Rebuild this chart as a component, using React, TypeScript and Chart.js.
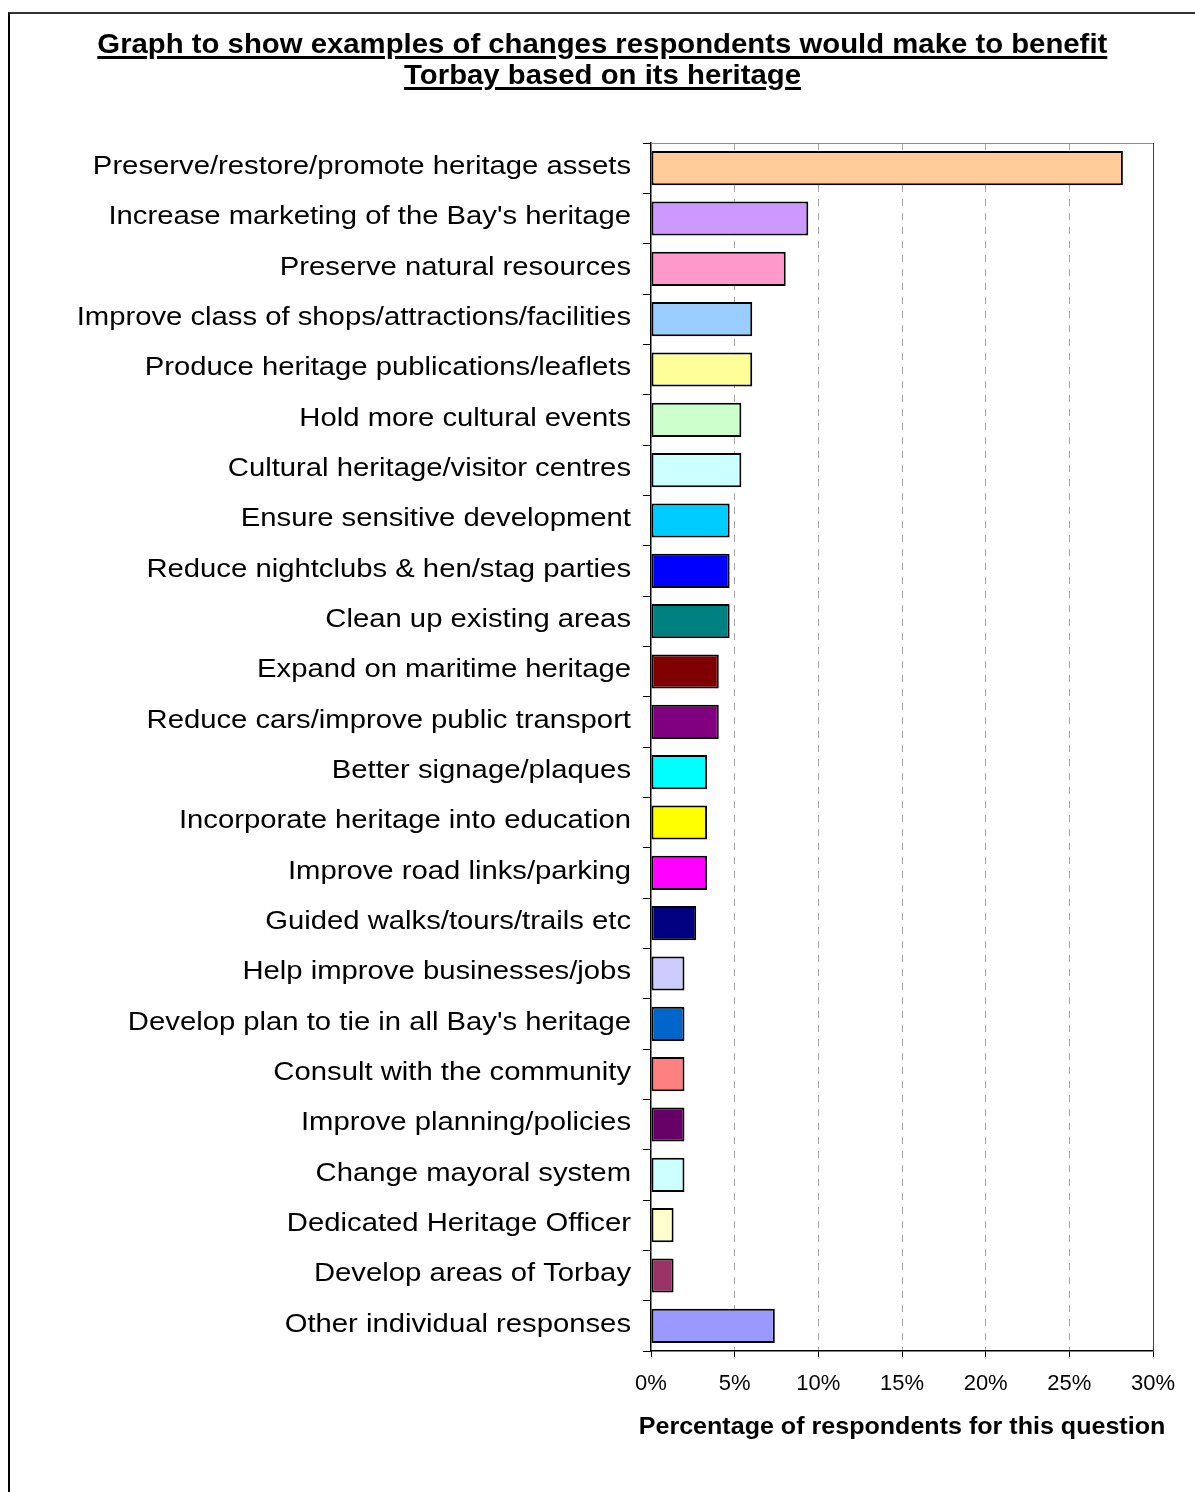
import React, { useEffect, useRef } from 'react';
import { Chart, registerables } from 'chart.js';

Chart.register(...registerables);

const categories: string[] = [
  'Preserve/restore/promote heritage assets',
  "Increase marketing of the Bay's heritage",
  'Preserve natural resources',
  'Improve class of shops/attractions/facilities',
  'Produce heritage publications/leaflets',
  'Hold more cultural events',
  'Cultural heritage/visitor centres',
  'Ensure sensitive development',
  'Reduce nightclubs & hen/stag parties',
  'Clean up existing areas',
  'Expand on maritime heritage',
  'Reduce cars/improve public transport',
  'Better signage/plaques',
  'Incorporate heritage into education',
  'Improve road links/parking',
  'Guided walks/tours/trails etc',
  'Help improve businesses/jobs',
  "Develop plan to tie in all Bay's heritage",
  'Consult with the community',
  'Improve planning/policies',
  'Change mayoral system',
  'Dedicated Heritage Officer',
  'Develop areas of Torbay',
  'Other individual responses',
];

const percentages: number[] = [
  28.2, 9.4, 8.05, 6.05, 6.05, 5.4, 5.4, 4.7, 4.7, 4.7, 4.05, 4.05,
  3.35, 3.35, 3.35, 2.7, 2.0, 2.0, 2.0, 2.0, 2.0, 1.35, 1.35, 7.4,
];

const barColors: string[] = [
  '#FFCC99', '#CC99FF', '#FF99CC', '#99CCFF', '#FFFF99', '#CCFFCC',
  '#CCFFFF', '#00CCFF', '#0000FF', '#008080', '#800000', '#800080',
  '#00FFFF', '#FFFF00', '#FF00FF', '#000080', '#CCCCFF', '#0066CC',
  '#FF8080', '#660066', '#CCFFFF', '#FFFFCC', '#993366', '#9999FF',
];

const xTickValues: number[] = [0, 5, 10, 15, 20, 25, 30];

const titleLines: string[] = [
  'Graph to show examples of changes respondents would make to benefit',
  'Torbay based on its heritage',
];
const xAxisTitle = 'Percentage of respondents for this question';

const FONT = "'Liberation Sans', Arial, sans-serif";

export default function App() {
  const canvasRef = useRef<HTMLCanvasElement>(null);

  useEffect(() => {
    const canvas = canvasRef.current;
    if (!canvas) return;

    const plotFrame = {
      id: 'plotFrame',
      beforeDatasetsDraw(chart: any) {
        const { ctx, chartArea: a } = chart;
        ctx.save();
        ctx.lineWidth = 1;
        ctx.strokeStyle = '#8c8c8c';
        ctx.beginPath();
        ctx.moveTo(a.left, a.top + 0.5);
        ctx.lineTo(a.right, a.top + 0.5);
        ctx.stroke();
        ctx.strokeStyle = '#404040';
        ctx.beginPath();
        ctx.moveTo(a.right + 0.5, a.top);
        ctx.lineTo(a.right + 0.5, a.bottom);
        ctx.stroke();
        ctx.restore();
      },
    };

    // The reference text is horizontally wider than plain Arial; widen it
    // around the anchor of each text block.
    const textWidth = {
      id: 'textWidth',
      beforeDraw(chart: any) {
        const y = chart.scales.y;
        const x = chart.scales.x;
        if (y && !y.__wide) {
          const orig = y.drawLabels.bind(y);
          y.drawLabels = (area: any) => {
            const c = chart.ctx;
            const ax = y.right - 8 - 12;
            c.save();
            c.translate(ax, 0);
            c.scale(1.125, 1);
            c.translate(-ax, 0);
            orig(area);
            c.restore();
          };
          y.__wide = true;
        }
        if (x && !x.__wide) {
          const origT = x.drawTitle.bind(x);
          x.drawTitle = (...args: any[]) => {
            const c = chart.ctx;
            const cx = (x.left + x.right) / 2;
            c.save();
            c.translate(cx, 0);
            c.scale(1.09, 1);
            c.translate(-cx, 0);
            origT(...args);
            c.restore();
          };
          x.__wide = true;
        }
      },
    };

    const chart = new Chart(canvas, {
      type: 'bar',
      data: {
        labels: categories,
        datasets: [
          {
            data: percentages,
            backgroundColor: barColors,
            borderColor: '#000000',
            borderWidth: 2,
            borderSkipped: false,
            barPercentage: 0.68,
            categoryPercentage: 1,
          },
        ],
      },
      options: {
        indexAxis: 'y',
        responsive: false,
        animation: false,
        devicePixelRatio: 1,
        layout: { padding: { top: 143, right: 42, left: 0, bottom: 0 } },
        plugins: {
          legend: { display: false },
          tooltip: { enabled: false },
          title: { display: false },
        },
        scales: {
          x: {
            type: 'linear',
            position: 'bottom',
            min: 0,
            max: 30,
            afterFit(scale: any) {
              scale.height = 141;
            },
            afterBuildTicks(scale: any) {
              scale.ticks = xTickValues.map((v) => ({ value: v }));
            },
            ticks: {
              color: '#000',
              font: { family: FONT, size: 22 },
              padding: 14,
              maxRotation: 0,
              callback: (v: any) => `${v}%`,
            },
            grid: {
              display: true,
              drawOnChartArea: true,
              drawTicks: true,
              tickLength: 6,
              tickColor: '#000',
              lineWidth: 1,
              color: (ctx: any) =>
                ctx.tick && (ctx.tick.value === 0 || ctx.tick.value === 30)
                  ? 'rgba(0,0,0,0)'
                  : '#a6a6a6',
            },
            border: { display: true, color: '#000', width: 1.5, dash: [7, 7] },
            title: {
              display: true,
              text: xAxisTitle,
              color: '#000',
              font: { family: FONT, size: 23, weight: 'bold' },
              padding: { top: 0, bottom: 51 },
            },
          },
          y: {
            type: 'category',
            offset: true,
            afterFit(scale: any) {
              scale.width = 651;
            },
            ticks: {
              color: '#000',
              font: { family: FONT, size: 26 },
              padding: 12,
              autoSkip: false,
              labelOffset: -1.5,
            },
            grid: {
              display: true,
              offset: true,
              drawOnChartArea: false,
              drawTicks: true,
              tickLength: 8,
              tickColor: '#000',
            },
            border: { display: true, color: '#000', width: 1.5 },
          },
        },
      } as any,
      plugins: [plotFrame, textWidth],
    });

    return () => {
      chart.destroy();
    };
  }, []);

  return (
    <div
      style={{
        position: 'fixed',
        left: 0,
        top: 0,
        width: 1195,
        height: 1492,
        background: '#fff',
        overflow: 'hidden',
      }}
    >
      <div
        style={{
          position: 'absolute',
          left: 8,
          top: 12,
          width: 1300,
          height: 1600,
          borderLeft: '2px solid #000',
          borderTop: '2px solid #333',
          boxSizing: 'border-box',
        }}
      />
      <canvas
        ref={canvasRef}
        width={1195}
        height={1492}
        style={{ position: 'absolute', left: 0, top: 0, width: 1195, height: 1492 }}
      />
      <div
        style={{
          position: 'absolute',
          left: 8,
          width: 1189,
          top: 28,
          textAlign: 'center',
          fontFamily: FONT,
          fontWeight: 'bold',
          fontSize: 28,
          lineHeight: '31px',
          color: '#000',
        }}
      >
        {titleLines.map((line, i) => (
          <div key={i}>
            <span
              style={{
                display: 'inline-block',
                transform: 'scaleX(1.047)',
                transformOrigin: 'center',
                textDecorationLine: 'underline',
                textDecorationThickness: '3px',
                textUnderlineOffset: '3px',
              }}
            >
              {line}
            </span>
          </div>
        ))}
      </div>
    </div>
  );
}
